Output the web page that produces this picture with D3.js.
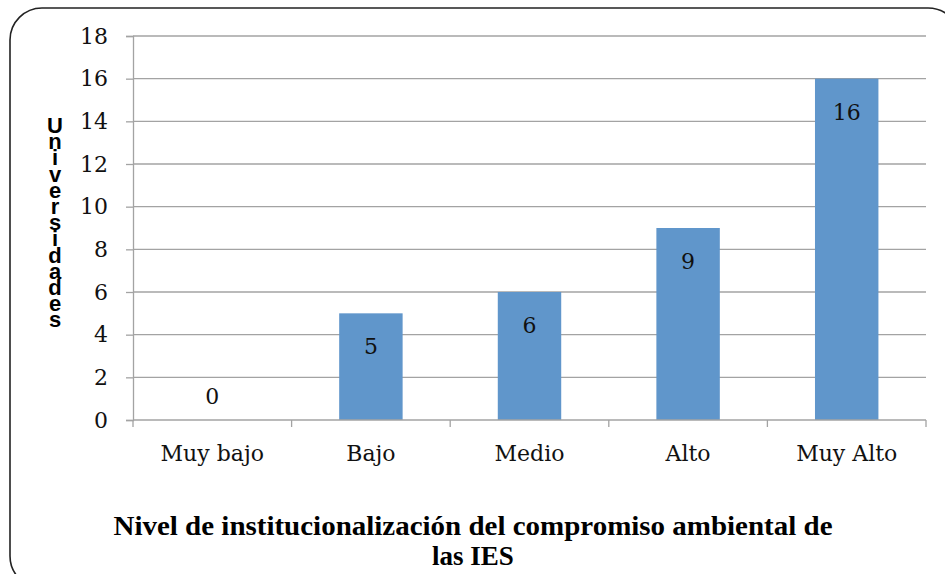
<!DOCTYPE html>
<html>
<head>
<meta charset="utf-8">
<script src="https://cdn.jsdelivr.net/npm/d3@7"></script>
<style>
  body { margin: 0; background: #fff; }
  svg { display: block; }
</style>
</head>
<body>
<div id="chart"></div>
<script>
var categories = ["Muy bajo", "Bajo", "Medio", "Alto", "Muy Alto"];
var values = [0, 5, 6, 9, 16];
var yTicks = [0, 2, 4, 6, 8, 10, 12, 14, 16, 18];
var yLabel = "Universidades";
var titleLines = ["Nivel de institucionalización del compromiso ambiental de", "las IES"];

var width = 945, height = 574,
  margin = {top: 36, right: 19, bottom: 154, left: 133},
  gridColor = "#a3a3a3",
  barColor = "#6096cb";

var svg = d3.select("#chart").append("svg")
  .attr("width", width)
  .attr("height", height);

// rounded frame round the whole chart
svg.append("rect")
  .attr("x", 10).attr("y", 8)
  .attr("width", 950).attr("height", 580)
  .attr("rx", 32).attr("ry", 32)
  .attr("fill", "none")
  .attr("stroke", "#222")
  .attr("stroke-width", 1.6);

var x = d3.scaleBand()
  .domain(categories)
  .range([margin.left, width - margin.right])
  .padding(0);

var y = d3.scaleLinear()
  .domain([0, 18])
  .range([height - margin.bottom, margin.top]);

// gridlines
svg.append("g")
  .selectAll("line")
  .data(yTicks.slice(1))
  .enter().append("line")
  .attr("x1", margin.left)
  .attr("x2", width - margin.right)
  .attr("y1", d => y(d))
  .attr("y2", d => y(d))
  .attr("stroke", gridColor)
  .attr("stroke-width", 1.3);

// bars
var barW = x.bandwidth() * 0.4;
svg.append("g")
  .selectAll("rect")
  .data(values)
  .enter().append("rect")
  .attr("x", (d, i) => x(categories[i]) + (x.bandwidth() - barW) / 2)
  .attr("y", d => y(d))
  .attr("width", barW)
  .attr("height", d => y(0) - y(d))
  .attr("fill", barColor);

// y axis
var yAxis = svg.append("g")
  .attr("transform", "translate(" + margin.left + ",0)")
  .call(d3.axisLeft(y).tickValues(yTicks).tickSize(7).tickPadding(18));
yAxis.selectAll("path, line").attr("stroke", gridColor).attr("stroke-width", 1.3);
yAxis.selectAll("text")
  .attr("font-family", "DejaVu Serif")
  .attr("font-size", "22px")
  .attr("fill", "#111");

// x axis: ticks at category boundaries
var xAxis = svg.append("g")
  .attr("transform", "translate(0," + y(0) + ")");
xAxis.append("line")
  .attr("x1", margin.left).attr("x2", width - margin.right)
  .attr("stroke", gridColor).attr("stroke-width", 1.3);
var bounds = categories.map(c => x(c)).concat([x(categories[categories.length - 1]) + x.bandwidth()]);
xAxis.selectAll(".tk")
  .data(bounds)
  .enter().append("line")
  .attr("x1", d => d).attr("x2", d => d)
  .attr("y1", 0).attr("y2", 7)
  .attr("stroke", gridColor).attr("stroke-width", 1.3);
xAxis.selectAll("text")
  .data(categories)
  .enter().append("text")
  .attr("x", d => x(d) + x.bandwidth() / 2)
  .attr("y", 41)
  .attr("text-anchor", "middle")
  .attr("font-family", "DejaVu Serif")
  .attr("font-size", "22px")
  .attr("fill", "#111")
  .text(d => d);

// value labels
svg.append("g")
  .selectAll("text")
  .data(values)
  .enter().append("text")
  .attr("x", (d, i) => x(categories[i]) + x.bandwidth() / 2)
  .attr("y", d => d > 0 ? y(d) + 41 : y(d) - 16)
  .attr("text-anchor", "middle")
  .attr("font-family", "DejaVu Serif")
  .attr("font-size", "22px")
  .attr("fill", "#111")
  .text(d => d);

// stacked y label (letters packed tight as in the original)
var yl = svg.append("text")
  .attr("font-family", "Liberation Sans")
  .attr("font-weight", "bold")
  .attr("font-size", "22px")
  .attr("text-anchor", "middle")
  .attr("fill", "#000");
yl.selectAll("tspan")
  .data(yLabel.split(""))
  .enter().append("tspan")
  .attr("x", 55)
  .attr("y", (d, i) => 133 + i * 16.2)
  .text(d => d);

// title
svg.append("g")
  .selectAll("text")
  .data(titleLines)
  .enter().append("text")
  .attr("x", 473)
  .attr("y", (d, i) => 535 + i * 30)
  .attr("text-anchor", "middle")
  .attr("font-family", "Liberation Serif")
  .attr("font-weight", "bold")
  .attr("font-size", "27px")
  .attr("fill", "#000")
  .attr("textLength", (d, i) => i == 0 ? 719 : null)
  .attr("lengthAdjust", "spacingAndGlyphs")
  .text(d => d);
</script>
</body>
</html>
